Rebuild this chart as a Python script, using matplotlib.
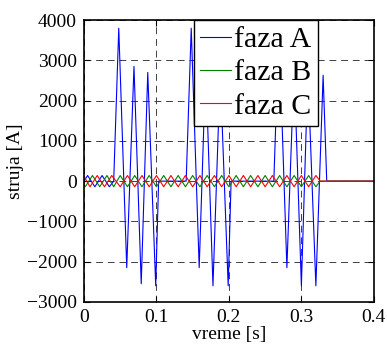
import matplotlib
matplotlib.use("Agg")
import matplotlib.pyplot as plt

# --- data (extrema / breakpoints of each trace) ---
# phase A: small oscillation, three inrush-like bursts, then zero
a_t = [0.000, 0.005, 0.015, 0.025, 0.035, 0.041,
       0.048, 0.059, 0.069, 0.079, 0.088, 0.099, 0.103,
       0.141, 0.148, 0.159, 0.168, 0.178, 0.188, 0.199, 0.203,
       0.262, 0.269, 0.280, 0.290, 0.300, 0.309, 0.320, 0.330, 0.335,
       0.400]
a_v = [0, 140, -140, 140, -140, 0,
       3800, -2150, 2850, -2550, 2700, -2600, 0,
       0, 3800, -2150, 2850, -2600, 2700, -2600, 0,
       0, 3800, -2150, 2850, -2600, 2700, -2600, 2630, 0,
       0]

# phase B: small sinusoid until ~0.326 s
b_t = [0.000, 0.0017, 0.0117, 0.0217, 0.0317, 0.041,
       0.05, 0.06, 0.07, 0.08, 0.09, 0.10, 0.11, 0.12, 0.13, 0.14,
       0.15, 0.16, 0.17, 0.18, 0.19, 0.20, 0.21, 0.22, 0.23, 0.24,
       0.25, 0.26, 0.27, 0.28, 0.29, 0.30, 0.31, 0.32, 0.326, 0.400]
b_v = [-120, -140, 140, -140, 140, -140,
       140, -140, 140, -140, 140, -140, 140, -140, 140, -140,
       140, -140, 140, -140, 140, -140, 140, -140, 140, -140,
       140, -140, 140, -140, 140, -140, 140, -140, 0, 0]

# phase C: small sinusoid until ~0.326 s
c_t = [0.000, 0.0083, 0.0183, 0.0283, 0.0383,
       0.05, 0.06, 0.07, 0.08, 0.09, 0.10, 0.11, 0.12, 0.13, 0.14,
       0.15, 0.16, 0.17, 0.18, 0.19, 0.20, 0.21, 0.22, 0.23, 0.24,
       0.25, 0.26, 0.27, 0.28, 0.29, 0.30, 0.31, 0.32, 0.326, 0.400]
c_v = [120, -140, 140, -140, 140,
       -140, 140, -140, 140, -140, 140, -140, 140, -140, 140,
       -140, 140, -140, 140, -140, 140, -140, 140, -140, 140,
       -140, 140, -140, 140, -140, 140, -140, 140, 0, 0]

labels = ["faza A", "faza B", "faza C"]
x_ticks = [0, 0.1, 0.2, 0.3, 0.4]
y_ticks = [-3000, -2000, -1000, 0, 1000, 2000, 3000, 4000]

plt.rcParams["font.family"] = "serif"
plt.rcParams["font.serif"] = ["Liberation Serif", "DejaVu Serif"]

fig = plt.figure(figsize=(3.87, 3.47), dpi=100)
ax = fig.add_axes([0.217, 0.130, 0.749, 0.812])

ax.plot(a_t, a_v, color=(0, 0, 1), lw=0.8, label=labels[0])
ax.plot(b_t, b_v, color=(0, 0.5, 0), lw=0.8, label=labels[1])
ax.plot(c_t, c_v, color=(1, 0, 0), lw=0.8, label=labels[2])

ax.set_xlim(0, 0.4)
ax.set_ylim(-3000, 4000)
ax.set_xticks(x_ticks)
ax.set_xticklabels(["0", "0.1", "0.2", "0.3", "0.4"])
ax.set_yticks(y_ticks)
ax.tick_params(direction="in", length=4, width=0.8, top=True, right=True,
               labelsize=14, pad=5)
for sp in ax.spines.values():
    sp.set_linewidth(1.2)
ax.grid(True, color="#404040", linestyle=(0, (7, 5)), linewidth=0.7)
ax.set_axisbelow(True)

ax.set_xlabel("vreme [s]", fontsize=14, labelpad=0)
ax.set_ylabel("struja [A]", fontsize=14, labelpad=2)

leg = ax.legend(loc="upper left", bbox_to_anchor=(0.378, 1.0),
                borderaxespad=0.0, fontsize=21.5, handlelength=1.05,
                handletextpad=0.12, labelspacing=0.22, borderpad=0.2,
                fancybox=False, framealpha=1.0, edgecolor="black")
leg.get_frame().set_linewidth(1.0)

fig.savefig("out.png", dpi=100)
